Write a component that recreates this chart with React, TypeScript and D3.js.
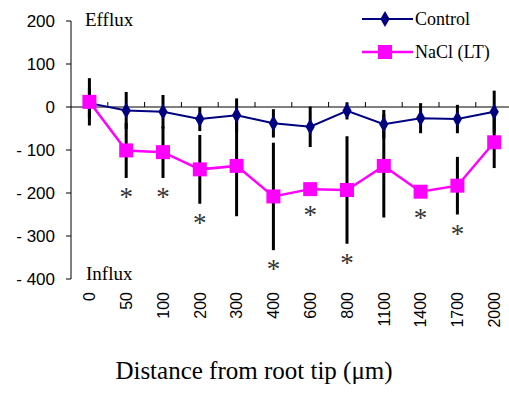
import React from "react";
import { scaleBand, scaleLinear, line, symbol, symbolDiamond, symbolSquare } from "d3";

// distances from root tip (µm)
const categories = ["0", "50", "100", "200", "300", "400", "600", "800", "1100", "1400", "1700", "2000"];
const controlMean = [9, -8, -11, -28, -19, -38, -46, -9, -40, -26, -28, -11];
const controlErr = [35, 43, 39, 28, 39, 33, 47, 20, 33, 35, 33, 49];
const naclMean = [12, -101, -105, -145, -137, -208, -191, -193, -137, -197, -183, -82];
const naclErr = [55, 64, 60, 80, 117, 125, 8, 125, 120, 8, 67, 60];
// significance marks under the NaCl series
const significant = [false, true, true, true, false, true, true, true, false, true, true, false];
const yTicks = [200, 100, 0, -100, -200, -300, -400];

const W = 509;
const H = 409;
const margin = { left: 71, top: 21 };

function fmt(v: number) {
  return v < 0 ? "- " + Math.abs(v) : String(v);
}

export default function App() {
  const x = scaleBand().domain(categories).range([margin.left, margin.left + 36.8 * 12]);
  const y = scaleLinear().domain([-400, 200]).range([279, 21]);
  const cx = (i: number) => (x(categories[i]) as number) + x.bandwidth() / 2;

  const path = line<number>().x((_, i) => cx(i)).y(d => y(d));
  const diamond = symbol().type(symbolDiamond).size(75)();
  const square = symbol().type(symbolSquare).size(196)();

  const serif = "'Liberation Serif', 'Times New Roman', serif";
  const sans = "'Liberation Sans', Arial, sans-serif";

  return (
    <div style={{ position: "absolute", left: 0, top: 0 }}>
      <svg width={W} height={H} style={{ display: "block", background: "#fff" }}>
        {/* y axis */}
        <line x1={margin.left} x2={margin.left} y1={y(200)} y2={y(-400)} stroke="#000" />
        {yTicks.map(t => (
          <g key={t}>
            <line x1={margin.left - 5} x2={margin.left} y1={y(t)} y2={y(t)} stroke="#000" />
            <text x={55} y={y(t)} dy="0.36em" textAnchor="end" fontFamily={sans} fontSize={17}>
              {fmt(t)}
            </text>
          </g>
        ))}
        {/* x axis at zero */}
        <line x1={margin.left} x2={W} y1={y(0)} y2={y(0)} stroke="#000" />
        {categories.map(c => (
          <line
            key={"t" + c}
            x1={(x(c) as number) + x.bandwidth()}
            x2={(x(c) as number) + x.bandwidth()}
            y1={y(0)}
            y2={y(0) - 5}
            stroke="#000"
          />
        ))}
        {categories.map((c, i) => (
          <text
            key={"l" + c}
            transform={`translate(${cx(i)},292) rotate(-90)`}
            dy="0.36em"
            textAnchor="end"
            fontFamily={sans}
            fontSize={16}
          >
            {c}
          </text>
        ))}

        <text x={85} y={26} fontFamily={serif} fontSize={19}>Efflux</text>
        <text x={86} y={280} fontFamily={serif} fontSize={19}>Influx</text>

        {/* error bars */}
        {categories.map((c, i) => (
          <g key={"e" + c} stroke="#000" strokeWidth={3}>
            <line x1={cx(i)} x2={cx(i)} y1={y(controlMean[i] + controlErr[i])} y2={y(controlMean[i] - controlErr[i])} />
            <line x1={cx(i)} x2={cx(i)} y1={y(naclMean[i] + naclErr[i])} y2={y(naclMean[i] - naclErr[i])} />
          </g>
        ))}

        {/* series */}
        <path d={path(controlMean) as string} fill="none" stroke="#000080" strokeWidth={2} />
        {controlMean.map((v, i) => (
          <path key={"d" + i} d={diamond as string} transform={`translate(${cx(i)},${y(v)})`} fill="#000080" />
        ))}
        <path d={path(naclMean) as string} fill="none" stroke="#ff00ff" strokeWidth={2.5} />
        {naclMean.map((v, i) => (
          <path key={"s" + i} d={square as string} transform={`translate(${cx(i)},${y(v)})`} fill="#ff00ff" />
        ))}

        {/* asterisks */}
        {significant.map((s, i) =>
          s ? (
            <text
              key={"a" + i}
              x={cx(i)}
              y={Math.max(y(naclMean[i] - naclErr[i]), y(naclMean[i]) + 7) + 28}
              textAnchor="middle"
              fontFamily={serif}
              fontSize={27}
              fill="#333"
            >
              *
            </text>
          ) : null
        )}

        {/* legend */}
        <g>
          <line x1={362} x2={413} y1={19} y2={19} stroke="#000080" strokeWidth={2} />
          <path d={diamond as string} transform="translate(385,19)" fill="#000080" />
          <text x={415} y={19} dy="0.35em" fontFamily={serif} fontSize={18}>Control</text>
          <line x1={362} x2={413} y1={52} y2={52} stroke="#ff00ff" strokeWidth={2.5} />
          <path d={square as string} transform="translate(385,52)" fill="#ff00ff" />
          <text x={415} y={52} dy="0.35em" fontFamily={serif} fontSize={18}>NaCl (LT)</text>
        </g>

        <text x={254} y={379} textAnchor="middle" fontFamily={serif} fontSize={25}>
          Distance from root tip (μm)
        </text>
      </svg>
    </div>
  );
}
